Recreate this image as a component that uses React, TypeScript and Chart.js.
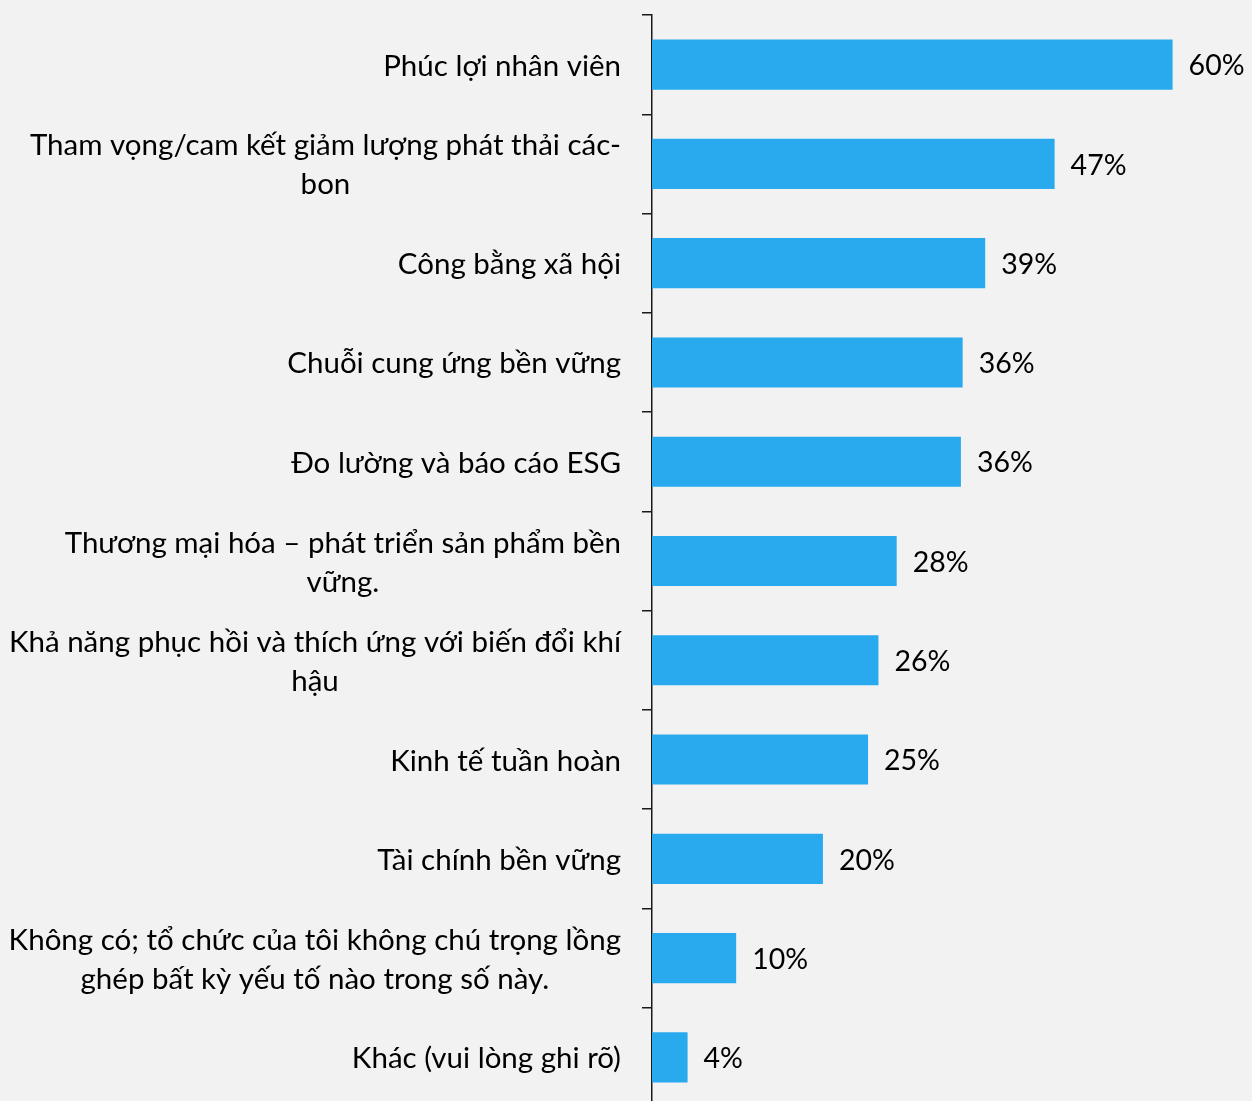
import React, { useEffect, useRef } from "react";
import { Chart, registerables } from "chart.js";

Chart.register(...registerables);

const categories: (string | string[])[] = [
  "Phúc lợi nhân viên",
  ["Tham vọng/cam kết giảm lượng phát thải các-", "bon"],
  "Công bằng xã hội",
  "Chuỗi cung ứng bền vững",
  "Đo lường và báo cáo ESG",
  ["Thương mại hóa – phát triển sản phẩm bền", "vững."],
  ["Khả năng phục hồi và thích ứng với biến đổi khí", "hậu"],
  "Kinh tế tuần hoàn",
  "Tài chính bền vững",
  ["Không có; tổ chức của tôi không chú trọng lồng", "ghép bất kỳ yếu tố nào trong số này."],
  "Khác (vui lòng ghi rõ)",
];

// bar lengths
const shares: number[] = [60, 46.4, 38.4, 35.8, 35.6, 28.2, 26.1, 24.9, 19.7, 9.7, 4.1];
// printed data labels
const shareLabels: string[] = ["60%", "47%", "39%", "36%", "36%", "28%", "26%", "25%", "20%", "10%", "4%"];

const xMax = 65;

const FONT_FAMILY = "Lato, 'Open Sans', sans-serif";
const CAT_FONT_SIZE = 29.5;
const VAL_FONT_SIZE = 28.5;
const LINE_HEIGHT = 39;
const TEXT_DY = 1.5;
const BAR_COLOR = "#29aaee";
const BG = "#f2f2f2";
const AXIS_COLOR = "#1a1a1a";
const LABEL_RIGHT = 621;

const categoryLabelsPlugin = {
  id: "categoryLabels",
  afterDraw(chart: any) {
    const ctx = chart.ctx;
    const yScale = chart.scales.y;
    ctx.save();
    ctx.font = `${CAT_FONT_SIZE}px ${FONT_FAMILY}`;
    ctx.fillStyle = "#000";
    ctx.textBaseline = "middle";
    ctx.textAlign = "center";
    categories.forEach((cat, i) => {
      const lines = Array.isArray(cat) ? cat : [cat];
      const y = yScale.getPixelForTick(i) + TEXT_DY;
      const maxW = Math.max(...lines.map((l) => ctx.measureText(l).width));
      const cx = LABEL_RIGHT - maxW / 2;
      lines.forEach((line, j) => {
        ctx.fillText(line, cx, y + (j - (lines.length - 1) / 2) * LINE_HEIGHT);
      });
    });
    ctx.restore();
  },
};

const valueLabelsPlugin = {
  id: "valueLabels",
  afterDatasetsDraw(chart: any) {
    const ctx = chart.ctx;
    const meta = chart.getDatasetMeta(0);
    ctx.save();
    ctx.font = `${VAL_FONT_SIZE}px ${FONT_FAMILY}`;
    ctx.fillStyle = "#000";
    ctx.textBaseline = "middle";
    ctx.textAlign = "left";
    meta.data.forEach((bar: any, i: number) => {
      ctx.fillText(shareLabels[i], bar.x + 16, bar.y + TEXT_DY);
    });
    ctx.restore();
  },
};

export default function App() {
  const canvasRef = useRef<HTMLCanvasElement | null>(null);

  useEffect(() => {
    if (!canvasRef.current) return;
    const chart = new Chart(canvasRef.current, {
      type: "bar",
      data: {
        labels: categories as any,
        datasets: [
          {
            data: shares,
            backgroundColor: BAR_COLOR,
            borderWidth: 0,
            barPercentage: 0.505,
            categoryPercentage: 1,
          },
        ],
      },
      options: {
        indexAxis: "y",
        responsive: false,
        animation: false,
        devicePixelRatio: 1,
        layout: { padding: { top: 15, bottom: 5, left: 0, right: 36 } },
        plugins: {
          legend: { display: false },
          tooltip: { enabled: false },
        },
        scales: {
          x: {
            display: false,
            min: 0,
            max: xMax,
          },
          y: {
            afterFit(scale: any) {
              scale.width = 652;
            },
            ticks: { display: false },
            grid: {
              offset: true,
              drawOnChartArea: false,
              drawTicks: true,
              tickLength: 10,
              color: AXIS_COLOR,
              lineWidth: 1.5,
            },
            border: { display: true, color: AXIS_COLOR, width: 1.5 },
          },
        },
      },
      plugins: [categoryLabelsPlugin, valueLabelsPlugin],
    });
    return () => chart.destroy();
  }, []);

  return (
    <div
      style={{
        position: "fixed",
        left: 0,
        top: 0,
        width: "100vw",
        height: "100vh",
        background: BG,
        overflow: "hidden",
      }}
    >
      <canvas
        ref={canvasRef}
        width={1252}
        height={1112}
        style={{ display: "block", width: 1252, height: 1112 }}
      />
    </div>
  );
}
